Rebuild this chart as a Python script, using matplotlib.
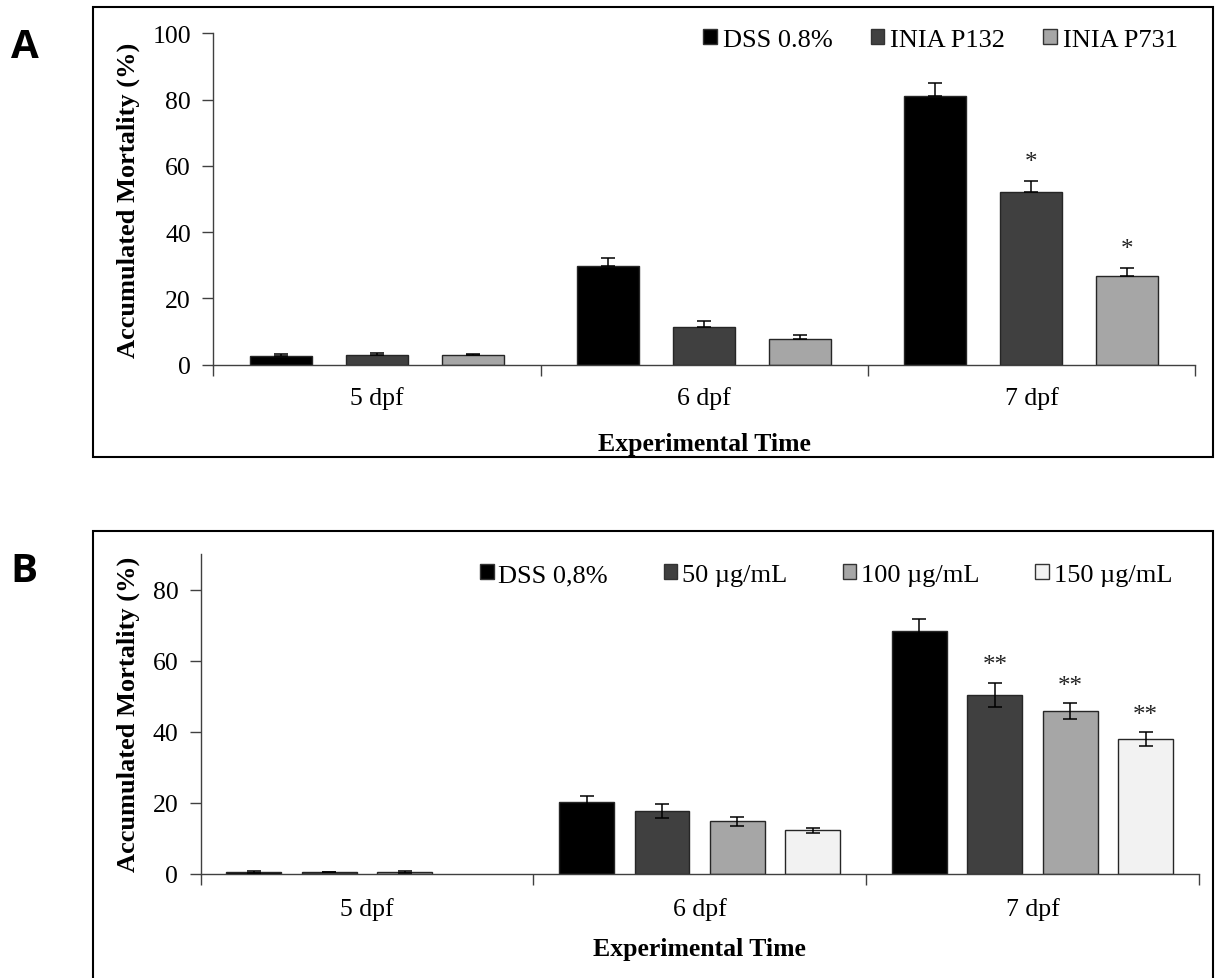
import numpy as np
import matplotlib
matplotlib.use("Agg")
import matplotlib.pyplot as plt
from matplotlib.patches import Patch, Rectangle

# ---------------- data ----------------
categories = ["5 dpf", "6 dpf", "7 dpf"]

# Panel A
series_A = ["DSS 0.8%", "INIA P132", "INIA P731"]
dss_A = [2.5, 29.9, 81.1]
p132_A = [2.8, 11.3, 52.1]
p731_A = [2.8, 7.9, 26.8]
dss_A_err = [0.6, 2.3, 3.8]
p132_A_err = [0.8, 2.0, 3.4]
p731_A_err = [0.3, 1.2, 2.4]
sig_A = [["", "", ""], ["", "", "*"], ["", "", "*"]]
colors_A = ["#000000", "#404040", "#a6a6a6"]

# Panel B
series_B = ["DSS 0,8%", "50 µg/mL", "100 µg/mL", "150 µg/mL"]
dss_B = [0.5, 20.1, 68.2]
c50_B = [0.4, 17.6, 50.4]
c100_B = [0.5, 14.7, 45.7]
c150_B = [np.nan, 12.2, 37.8]
dss_B_err = [0.3, 1.8, 3.5]
c50_B_err = [0.1, 2.1, 3.4]
c100_B_err = [0.3, 1.2, 2.2]
c150_B_err = [np.nan, 0.7, 2.0]
sig_B = [["", "", ""], ["", "", "**"], ["", "", "**"], ["", "", "**"]]
colors_B = ["#000000", "#404040", "#a6a6a6", "#f2f2f2"]

yticks_A = [0, 20, 40, 60, 80, 100]
yticks_B = [0, 20, 40, 60, 80]

SERIF = "Liberation Serif"
W, H = 1216, 979
fig = plt.figure(figsize=(W / 100, H / 100), dpi=100)


def fx(px):
    return px / W


def fy(py):
    return 1 - py / H


def panel(rect_px, vals, errs, names, colors, sigs, ymax, yticks, step, width,
          symmetric, legend_anchor, star_off, tickpad, xlabelpad, colsp, htp):
    l, t, r, b = rect_px
    ax = fig.add_axes([fx(l), fy(b), fx(r - l), (b - t) / H])
    n = len(vals)
    x = np.arange(len(categories))
    offs = (np.arange(n) - (n - 1) / 2) * step
    for i in range(n):
        v = np.array(vals[i], dtype=float)
        e = np.array(errs[i], dtype=float)
        xi = x + 0.5 + offs[i]
        ax.bar(xi, v, width=width, color=colors[i], edgecolor="#262626",
               linewidth=1.0, zorder=2, label=names[i])
        if symmetric:
            yerr = e
        else:
            yerr = [np.zeros_like(e), e]
        ax.errorbar(xi, v, yerr=yerr, fmt="none", ecolor="black",
                    elinewidth=1.1, capsize=4.8, capthick=1.1, zorder=3)
        for j, s in enumerate(sigs[i]):
            if s:
                ax.text(xi[j], v[j] + e[j] + star_off, s, ha="center",
                        va="bottom", fontsize=18, family=SERIF, color="#222222")
    ax.set_xlim(0, len(categories))
    ax.set_ylim(0, ymax)
    ax.set_yticks(yticks)
    ax.set_yticklabels([str(t) for t in yticks])
    ax.set_xticks(np.arange(len(categories) + 1))
    ax.set_xticklabels([])
    ax.set_xticks(x + 0.5, minor=True)
    ax.set_xticklabels(categories, minor=True)
    ax.tick_params(axis="x", which="minor", length=0, pad=tickpad)
    ax.tick_params(axis="x", which="major", length=8, width=1, color="#404040",
                   direction="out")
    ax.tick_params(axis="y", length=8, width=1, color="#404040",
                   direction="out", pad=8)
    for lab in ax.get_xticklabels(minor=True) + ax.get_yticklabels():
        lab.set_fontfamily(SERIF)
        lab.set_fontsize(18.5)
    for sp in ["top", "right"]:
        ax.spines[sp].set_visible(False)
    for sp in ["left", "bottom"]:
        ax.spines[sp].set_color("#404040")
        ax.spines[sp].set_linewidth(1.0)
    ax.set_xlabel("Experimental Time", family=SERIF, fontsize=18.5,
                  fontweight="bold", labelpad=xlabelpad)
    ax.set_ylabel("Accumulated Mortality (%)", family=SERIF, fontsize=19,
                  fontweight="bold", labelpad=9)
    handles = [Patch(facecolor=c, edgecolor="#333333", linewidth=1.0) for c in colors]
    ax.legend(handles, names, loc="center right",
              bbox_to_anchor=legend_anchor, bbox_transform=fig.transFigure,
              ncol=n, frameon=False, prop={"family": SERIF, "size": 19},
              handlelength=0.52, handleheight=0.52, handletextpad=htp,
              columnspacing=colsp, borderpad=0, borderaxespad=0)
    return ax


axA = panel((213.3, 34.3, 1195, 365.7),
            [dss_A, p132_A, p731_A], [dss_A_err, p132_A_err, p731_A_err],
            series_A, colors_A, sig_A, 100, yticks_A, 0.2934, 0.19, False,
            (fx(1178), fy(41)), 2.3, 15, 17, 1.45, 0.22)
axB = panel((200.5, 555, 1199, 874.5),
            [dss_B, c50_B, c100_B, c150_B],
            [dss_B_err, c50_B_err, c100_B_err, c150_B_err],
            series_B, colors_B, sig_B, 90, yticks_B, 0.2266, 0.165, True,
            (fx(1172), fy(576)), 1.8, 17, 12, 2.1, 0.18)

# frames around panels
fig.patches.append(Rectangle((fx(93.3), fy(457.7)), fx(1213 - 93.3), (457.7 - 8.3) / H,
                             transform=fig.transFigure, fill=False,
                             edgecolor="black", linewidth=1.5))
fig.patches.append(Rectangle((fx(93.3), fy(1000)), fx(1213 - 93.3), (1000 - 532.3) / H,
                             transform=fig.transFigure, fill=False,
                             edgecolor="black", linewidth=1.5))

fig.text(fx(25), fy(48), "A", ha="center", va="center", fontsize=29,
         fontweight="bold", family="Open Sans")
fig.text(fx(24), fy(572), "B", ha="center", va="center", fontsize=29,
         fontweight="bold", family="Open Sans")

fig.savefig("out.png", dpi=100)
